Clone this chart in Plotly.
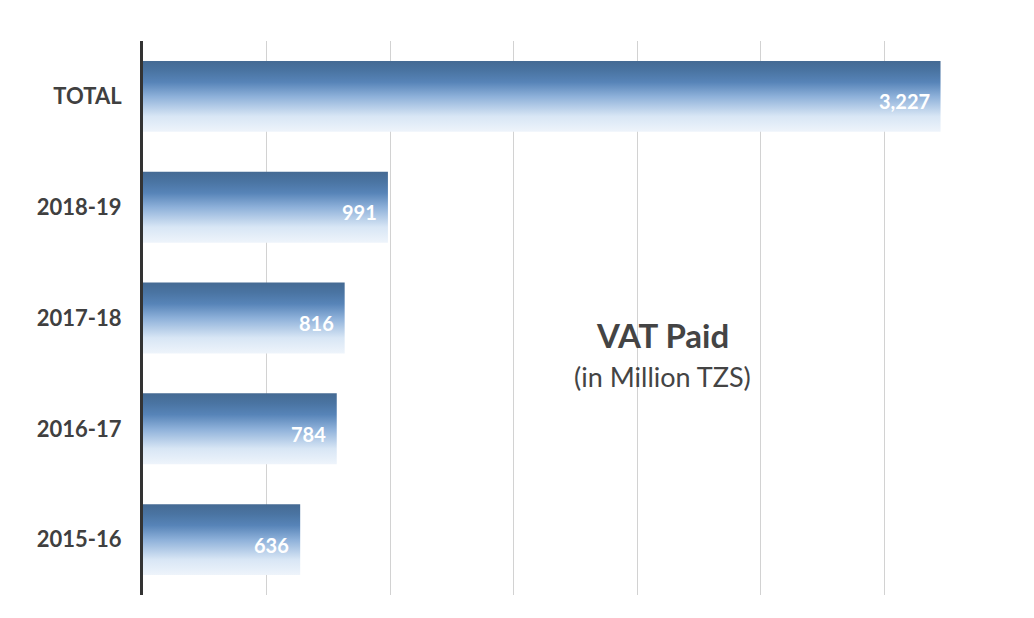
import plotly.graph_objects as go

# VAT paid, million TZS (top to bottom as drawn)
categorias = ["TOTAL", "2018-19", "2017-18", "2016-17", "2015-16"]
valores = [3227, 991, 816, 784, 636]
etiquetas = ["3,227", "991", "816", "784", "636"]

grid_ticks = [0, 500, 1000, 1500, 2000, 2500, 3000, 3500]

posiciones = [len(categorias) - 1 - i for i in range(len(categorias))]
medio_alto = 0.32  # half bar thickness in category units

degradado = [
    [0.0, "#eef4fb"],
    [0.22, "#d8e6f5"],
    [0.5, "#8db0d9"],
    [0.7, "#5784b8"],
    [0.86, "#4a74a2"],
    [1.0, "#456a93"],
]

fig = go.Figure()

for cat, val, pos in zip(categorias, valores, posiciones):
    y0, y1 = pos - medio_alto, pos + medio_alto
    fig.add_trace(go.Scatter(
        x=[0, val, val, 0, 0],
        y=[y0, y0, y1, y1, y0],
        mode="lines",
        line=dict(width=0),
        fill="toself",
        fillgradient=dict(type="vertical", colorscale=degradado),
        name=cat,
        hoverinfo="skip",
        showlegend=False,
    ))

for val, pos, txt in zip(valores, posiciones, etiquetas):
    fig.add_annotation(
        x=val, y=pos, text=f"<b>{txt}</b>",
        xanchor="right", yanchor="middle",
        xshift=-9, yshift=-5, showarrow=False,
        font=dict(family="Lato", size=20, color="white"),
    )

fig.add_annotation(
    text="<b>VAT Paid</b>", xref="paper", yref="paper",
    x=0.601, y=0.469, showarrow=False,
    font=dict(family="Lato", size=33, color="#444444"),
)
fig.add_annotation(
    text="(in Million TZS)", xref="paper", yref="paper",
    x=0.601, y=0.394, showarrow=False,
    font=dict(family="Lato", size=27, color="#444444"),
)

fig.update_xaxes(
    range=[0, 3500], tickvals=grid_ticks, showticklabels=False,
    showgrid=True, gridcolor="#d2d2d2", gridwidth=1,
    zeroline=False, showline=False, automargin=False,
)
fig.update_yaxes(
    range=[-0.5, len(categorias) - 0.5],
    tickvals=posiciones, ticktext=[f"<b>{c}</b>" for c in categorias],
    tickfont=dict(family="Lato", size=22, color="#404040"),
    ticklabelstandoff=14,
    showgrid=False, zeroline=False, automargin=False,
    showline=True, linecolor="#333333", linewidth=3,
)
fig.update_layout(
    width=1034, height=618,
    margin=dict(l=135, r=34, t=33, b=31),
    plot_bgcolor="white", paper_bgcolor="white",
)

fig.write_html("out.html")
